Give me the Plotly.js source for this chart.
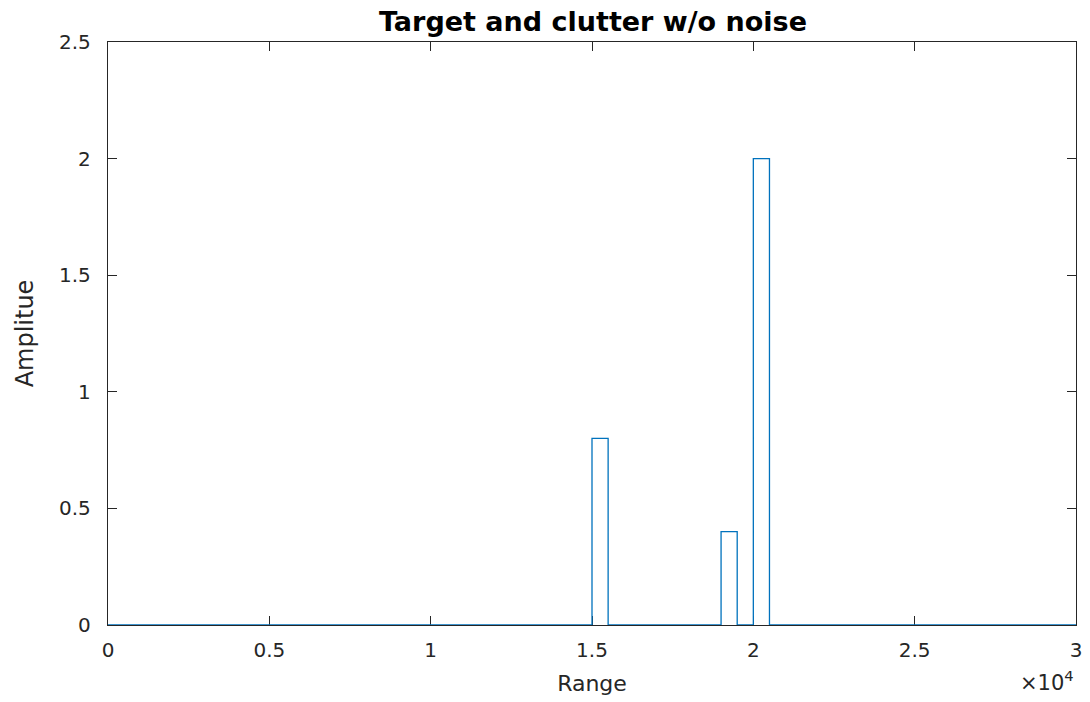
<!DOCTYPE html>
<html>
<head>
<meta charset="utf-8">
<script src="https://cdn.plot.ly/plotly-3.0.1.min.js"></script>
<style>html,body{margin:0;padding:0;background:#fff;}#chart{width:1090px;height:702px;}</style>
</head>
<body>
<div id="chart"></div>
<script>
// Step signal: amplitude holds from each range edge to the next one
var rangeEdges = [0, 15000, 15500, 19000, 19500, 20000, 20500, 30000];
var amplitude  = [0, 0.8,   0,     0.4,   0,     2,     0,     0];

var xTickVals = [0, 5000, 10000, 15000, 20000, 25000, 30000];
var xTickText = ['0', '0.5', '1', '1.5', '2', '2.5', '3'];
var yTickVals = [0, 0.5, 1, 1.5, 2, 2.5];
var yTickText = ['0', '0.5', '1', '1.5', '2', '2.5'];

var axisColor = '#262626';
var tickFont = {family: 'DejaVu Sans, sans-serif', size: 20, color: axisColor};

var trace = {
  x: rangeEdges,
  y: amplitude,
  type: 'scatter',
  mode: 'lines',
  line: {shape: 'hv', color: '#0072BD', width: 1.3},
  hoverinfo: 'skip'
};

var layout = {
  width: 1090, height: 702,
  margin: {l: 108, r: 14, t: 42, b: 77, pad: 0},
  paper_bgcolor: '#ffffff', plot_bgcolor: '#ffffff',
  showlegend: false,
  title: {text: '<b>Target and clutter w/o noise</b>', x: 0.544, xanchor: 'center', y: 0.969, yanchor: 'middle',
          font: {family: 'DejaVu Sans, sans-serif', size: 27, color: '#000000'}},
  xaxis: {
    range: [0, 30000], tickmode: 'array', tickvals: xTickVals, ticktext: xTickText,
    showline: true, linecolor: axisColor, linewidth: 1.2, mirror: 'ticks',
    ticks: 'inside', ticklen: 9, tickwidth: 1, tickcolor: axisColor,
    showgrid: false, zeroline: false, tickfont: tickFont, ticklabelstandoff: 7,
    layer: 'below traces',
    title: {text: 'Range', standoff: 14, font: {family: 'DejaVu Sans, sans-serif', size: 22, color: axisColor}}
  },
  yaxis: {
    range: [0, 2.5], tickmode: 'array', tickvals: yTickVals, ticktext: yTickText,
    showline: true, linecolor: axisColor, linewidth: 1.2, mirror: 'ticks',
    ticks: 'inside', ticklen: 9, tickwidth: 1, tickcolor: axisColor,
    showgrid: false, zeroline: false, tickfont: tickFont, ticklabelstandoff: 12,
    layer: 'below traces',
    title: {text: 'Amplitue', standoff: 18, font: {family: 'DejaVu Sans, sans-serif', size: 24, color: axisColor}}
  },
  annotations: [{
    text: '\u00d710<sup>4</sup>', xref: 'paper', yref: 'paper', x: 1.0, y: -0.068,
    xanchor: 'right', yanchor: 'top', showarrow: false,
    font: {family: 'DejaVu Sans, sans-serif', size: 21, color: axisColor}
  }]
};

Plotly.newPlot('chart', [trace], layout, {displayModeBar: false, staticPlot: true});
</script>
</body>
</html>
